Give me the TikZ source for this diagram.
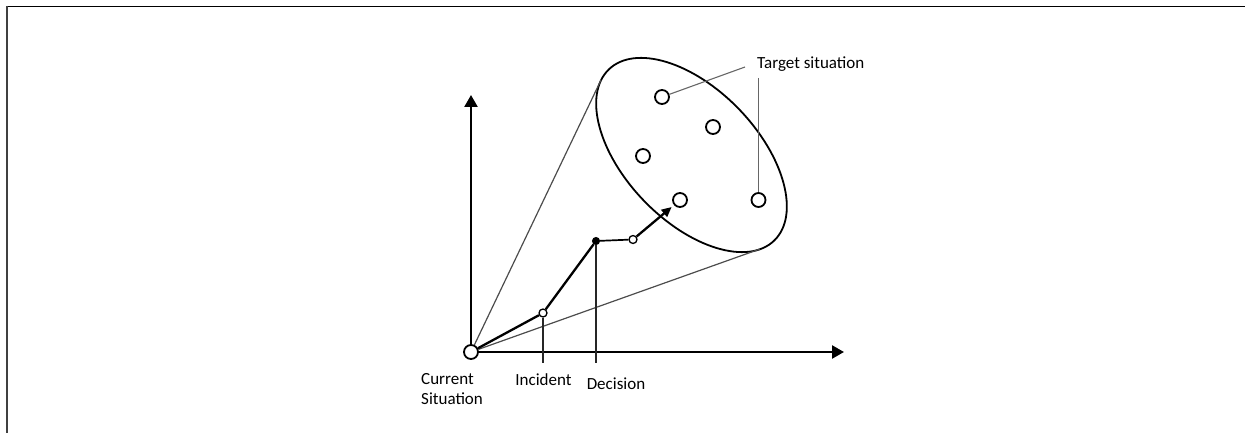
\documentclass[tikz,border=0pt]{standalone}
\usepackage{fontspec}
\setmainfont{Carlito}
\usetikzlibrary{arrows.meta}

\tikzset{
  axisline/.style={line width=2.4pt, -{Triangle[length=12pt,width=13pt]}},
  pathline/.style={line width=2.3pt},
  hopline/.style={line width=1.7pt},
  thinline/.style={line width=1.2pt, draw=black!70},
  leader/.style={line width=1.1pt, draw=black!60},
  dropline/.style={line width=1.4pt, draw=black!85},
  origin/.style={circle, draw, fill=white, line width=1.8pt, minimum size=14pt, inner sep=0pt},
  event/.style={circle, draw, fill=white, line width=1.3pt, minimum size=8pt, inner sep=0pt},
  choice/.style={circle, draw, fill=black, line width=1pt, minimum size=7pt, inner sep=0pt},
  target/.style={circle, draw, line width=1.8pt, minimum size=14pt, inner sep=0pt},
  lbl/.style={inner sep=0pt, font=\fontsize{17}{20}\selectfont},
}

\begin{document}
\begin{tikzpicture}[x=1pt, y=-1pt]
  \useasboundingbox (0,0) rectangle (1245,433);

  % frame edges
  \draw[line width=1.5pt] (6,6.5) -- (1245,6.5);
  \draw[line width=2pt, draw=black!75] (7,6) -- (7,433);

  % cloud of possible target situations
  \draw[line width=1.8pt, rotate around={-46:(691.5,155)}]
    (691.5,155) ellipse [x radius=119pt, y radius=66pt];
  \coordinate (t1) at (601,80);
  \coordinate (t2) at (760,249);

  \node[target] (c1) at (662,97) {};
  \node[target] (c2) at (713,127) {};
  \node[target] (c3) at (643,156) {};
  \node[target] (c4) at (680,200) {};
  \node[target] (c5) at (758.5,200) {};

  % axes
  \coordinate (ytip) at (471,95);
  \coordinate (xtip) at (844,352);
  \node[origin] (o) at (471,352) {};
  \draw[axisline] (o) -- (ytip);
  \draw[axisline] (o) -- (xtip);

  % cone from the current situation
  \draw[thinline] (o) -- (t1);
  \draw[thinline] (o) -- (t2);

  % trajectory
  \node[event] (inc) at (543,313) {};
  \node[choice] (dec) at (596,241) {};
  \node[event] (mid) at (633,239.5) {};
  \coordinate (incdrop) at (543,363);
  \coordinate (decdrop) at (596,363);
  \draw[dropline] (inc) -- (incdrop);
  \draw[dropline] (dec) -- (decdrop);
  \draw[pathline] (o) -- (inc) -- (dec);
  \draw[hopline] (dec) -- (mid);
  \draw[pathline, -{Triangle[length=10pt,width=9pt]}, shorten >=3pt] (mid) -- (c4);

  % labels
  \node[lbl, anchor=base west] (tl) at (757,68.5) {Target situation};
  \coordinate (l1) at (745,67);
  \coordinate (l2) at (758.5,78);
  \draw[leader] (l1) -- (c1);
  \draw[leader] (l2) -- (c5);

  \node[lbl, anchor=north west, align=left] (cs) at (421,373) {Current\\Situation};
  \node[lbl, anchor=base] (il) at (543.5,385.5) {Incident};
  \node[lbl, anchor=base] (dl) at (616,389) {Decision};
\end{tikzpicture}
\end{document}
